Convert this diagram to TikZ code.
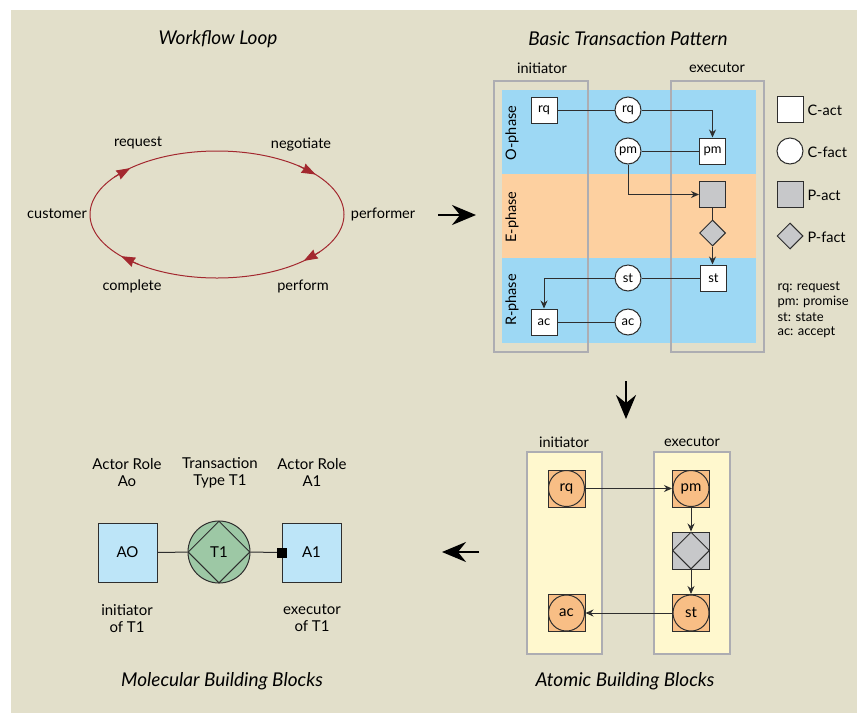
\documentclass[tikz,border=0pt]{standalone}
\usepackage{fontspec}
\setmainfont{Lato}
\usetikzlibrary{arrows.meta,calc,shapes.geometric}

\definecolor{bgbeige}{HTML}{E2DFCA}
\definecolor{loopred}{HTML}{A3282F}
\definecolor{bandblue}{HTML}{9DD8F4}
\definecolor{bandorange}{HTML}{FDD0A0}
\definecolor{framegray}{HTML}{ADADB2}
\definecolor{pgray}{HTML}{C7C8CA}
\definecolor{darkline}{HTML}{2E2E2E}
\definecolor{boxyellow}{HTML}{FFF8CE}
\definecolor{nodeorange}{HTML}{F8BE85}
\definecolor{actorblue}{HTML}{BDE5F8}
\definecolor{typegreen}{HTML}{9DC8A5}

\begin{document}
\begin{tikzpicture}[x=1pt,y=-1pt,
  title/.style={font=\itshape\fontsize{19}{22}\selectfont},
  lbl/.style={font=\fontsize{14.5}{17}\selectfont},
  smalllbl/.style={font=\fontsize{13}{15}\selectfont},
  conn/.style={draw=darkline, line width=1pt},
  arr/.style={-{Stealth[length=8pt,width=7pt]}},
  bigarrow/.style={line width=2.6pt, -{Stealth[length=24pt,width=20pt,inset=8pt]}},
  cact/.style={rectangle, draw=darkline, line width=1pt, fill=white, minimum size=26pt, inner sep=0pt, font=\fontsize{13}{15}\selectfont},
  cfact/.style={circle, draw=darkline, line width=1pt, fill=white, minimum size=26pt, inner sep=0pt, font=\fontsize{13}{15}\selectfont},
  pact/.style={cact, fill=pgray},
  pfact/.style={diamond, draw=darkline, line width=1pt, fill=pgray, minimum size=26pt, inner sep=0pt},
  rolebox/.style={draw=framegray, line width=2.8pt},
  asq/.style={rectangle, draw=darkline, line width=1pt, fill=nodeorange, minimum size=37pt, inner sep=0pt},
  acirc/.style={circle, draw=darkline, line width=1pt, fill=nodeorange, minimum size=36pt, inner sep=0pt, font=\fontsize{15}{17}\selectfont},
  actor/.style={rectangle, draw=darkline, line width=1pt, fill=actorblue, minimum size=59pt, inner sep=0pt, font=\fontsize{15}{17}\selectfont},
  caption/.style={font=\fontsize{15}{17}\selectfont, align=center}
]
\useasboundingbox (0,0) rectangle (857,713);
\fill[bgbeige] (11,10) rectangle (857,713);

% ---------- titles ----------
\node[title] at (218,39) {Workflow Loop};
\node[title] at (628,39) {Basic Transaction Pattern};
\node[title] at (222,681) {Molecular Building Blocks};
\node[title] at (625,681) {Atomic Building Blocks};

% ---------- workflow loop ----------
\coordinate (E) at (217,214.5);
\draw[loopred, line width=1pt] (E) ellipse [x radius=127, y radius=63.5];
\foreach \t in {43,135,223,317}{
  \draw[loopred, line width=1pt, -{Stealth[length=14pt,width=10pt,inset=1pt]}]
    ($(E)+(\t-7:127 and 63.5)$) -- ($(E)+(\t+4:127 and 63.5)$);
}
\node[lbl] at (138,143) {request};
\node[lbl] at (301,145) {negotiate};
\node[lbl] at (57,214) {customer};
\node[lbl] at (383,214) {performer};
\node[lbl] at (132,286) {complete};
\node[lbl] at (303,286) {perform};

% ---------- big arrows between panels ----------
\coordinate (ra0) at (438,215);  \coordinate (ra1) at (476,215);
\coordinate (da0) at (626,381);  \coordinate (da1) at (626,419);
\coordinate (la0) at (479,552);  \coordinate (la1) at (442,552);
\draw[bigarrow] (ra0) -- (ra1);
\draw[bigarrow] (da0) -- (da1);
\draw[bigarrow] (la0) -- (la1);

% ---------- basic transaction pattern ----------
\fill[bandblue]   (502,90)  rectangle (756,174);
\fill[bandorange] (502,174) rectangle (756,258);
\fill[bandblue]   (502,258) rectangle (756,343);
\draw[rolebox] (494,81) rectangle (588,352);
\draw[rolebox] (671,81) rectangle (764,352);
\node[lbl] at (542,68) {initiator};
\node[lbl] at (717,68) {executor};
\node[lbl, rotate=90] at (512,133) {O-phase};
\node[lbl, rotate=90] at (512,217) {E-phase};
\node[lbl, rotate=90] at (512,300) {R-phase};

\node[cact]  (rqs) at (544,110)   {rq};
\node[cfact] (rqc) at (628,110)   {rq};
\node[cfact] (pmc) at (628,151)   {pm};
\node[cact]  (pms) at (712.5,151) {pm};
\node[pact]  (pa)  at (712.5,194.5) {};
\node[pfact] (pf)  at (712.5,233) {};
\node[cact]  (sts) at (713.5,278) {st};
\node[cfact] (stc) at (628,278)   {st};
\node[cact]  (acs) at (544,322)   {ac};
\node[cfact] (acc) at (628,322)   {ac};

\draw[conn] (rqs) -- (rqc);
\draw[conn, arr] (rqc) -| (pms);
\draw[conn] (pms) -- (pmc);
\draw[conn, arr] (pmc) |- (pa);
\draw[conn] (pa) -- (pf);
\draw[conn, arr] (pf.south) -- (pf.south |- sts.north);
\draw[conn] (sts) -- (stc);
\draw[conn, arr] (stc) -| (acs);
\draw[conn] (acs) -- (acc);

% legend
\node[cact]  (lg1) at (790,109.5) {};
\node[cfact] (lg2) at (790,151) {};
\node[pact]  (lg3) at (790,194) {};
\node[pfact] (lg4) at (790,236) {};
\node[lbl, anchor=west] at (804,110) {C-act};
\node[lbl, anchor=west] at (804,152) {C-fact};
\node[lbl, anchor=west] at (804,195) {P-act};
\node[lbl, anchor=west] at (804,237) {P-fact};
\node[smalllbl, anchor=west] at (774,287) {rq: request};
\node[smalllbl, anchor=west] at (774,302) {pm: promise};
\node[smalllbl, anchor=west] at (774,317) {st: state};
\node[smalllbl, anchor=west] at (774,332) {ac: accept};

% ---------- atomic building blocks ----------
\draw[rolebox, fill=boxyellow] (527,452) rectangle (602,654);
\draw[rolebox, fill=boxyellow] (654,452) rectangle (730,654);
\node[lbl] at (564,442) {initiator};
\node[lbl] at (692,442) {executor};

\node[asq] (arq) at (566.5,488.5) {};
\node[acirc] at (arq) {rq};
\node[asq] (apm) at (691,488.5) {};
\node[acirc] at (apm) {pm};
\node[asq, fill=pgray] (apf) at (691,550.5) {};
\node[diamond, draw=darkline, line width=1pt, fill=pgray, minimum size=37pt, inner sep=0pt] at (apf) {};
\node[asq] (ast) at (691,613) {};
\node[acirc] at (ast) {st};
\node[asq] (aac) at (566.5,613) {};
\node[acirc] at (aac) {ac};

\draw[conn, arr] (arq) -- (apm);
\draw[conn, arr] (apm) -- (apf);
\draw[conn, arr] (apf) -- (ast);
\draw[conn, arr] (ast) -- (aac);

% ---------- molecular building blocks ----------
\node[caption] at (127,472.5) {Actor Role\\Ao};
\node[caption] at (220,472.5) {Transaction\\Type T1};
\node[caption] at (312,472.5) {Actor Role\\A1};

\node[actor] (a0) at (127.5,552.5) {AO};
\node[circle, draw=darkline, line width=1pt, fill=typegreen, minimum size=62pt, inner sep=0pt] (t1) at (219,552) {};
\node[diamond, draw=darkline, line width=1pt, minimum size=62pt, inner sep=0pt, font=\fontsize{15}{17}\selectfont] at (t1) {T1};
\node[actor] (a1) at (311.5,552.5) {A1};
\draw[conn] (a0) -- (t1);
\draw[conn] (t1) -- (a1);
\node[fill=black, minimum size=10pt, inner sep=0pt] (blk) at (a1.west) {};

\node[caption] at (127,618.5) {initiator\\of T1};
\node[caption] at (312,618.5) {executor\\of T1};
\end{tikzpicture}
\end{document}
